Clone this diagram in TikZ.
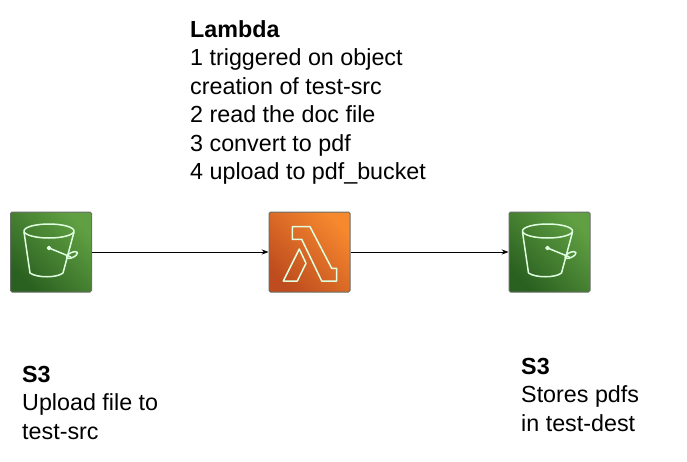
\documentclass[tikz,border=0pt]{standalone}
\usepackage{fontspec}
\setmainfont{Liberation Sans}
\usepackage{xcolor}
\usetikzlibrary{positioning,arrows.meta}
\definecolor{bucketdark}{RGB}{42,96,32}
\definecolor{bucketlight}{RGB}{96,160,66}
\definecolor{lambdadark}{RGB}{190,76,30}
\definecolor{lambdalight}{RGB}{246,136,46}
\definecolor{rimgray}{RGB}{105,110,105}
\tikzset{
    icon/.style={rectangle,draw=rimgray,line width=1pt,rounded corners=1.5pt,minimum width=81pt,minimum height=80pt,inner sep=0pt},
    bucket/.style={icon,bottom color=bucketdark,top color=bucketlight,shading angle=-45},
    lambda/.style={icon,bottom color=lambdadark,top color=lambdalight,shading angle=-45},
    glyph/.style={draw=white!88!green,line width=1.5pt,line join=round},
    note/.style={align=left,inner sep=0pt,font=\fontsize{23.3}{28.5}\selectfont},
    arr/.style={-{Stealth[length=2.4mm,width=1.8mm]},line width=0.8pt},
}
\newcommand{\bucketglyph}[1]{%
\begin{scope}[shift={(#1)},glyph]
\draw (-2,-21) ellipse (25 and 7);
\draw (-27,-20) -- (-21,21) .. controls (-14,26) and (6,26) .. (12,21) -- (23,-20);
\draw[fill=white] (-2,-4) circle (1.5);
\draw (-2,-4) -- (20,5);
\draw[rotate around={25:(21,3)}] (21,3) ellipse (6 and 2.5);
\end{scope}}
\begin{document}
\begin{tikzpicture}[x=1pt,y=-1pt]
\useasboundingbox (0,0) rectangle (687,461);
\node[bucket] (src) at (51,252) {};
\node[lambda] (fn) at (309.5,252) {};
\node[bucket] (dest) at (549.5,252) {};

\bucketglyph{src.center}
\bucketglyph{dest.center}
\begin{scope}[shift={(fn.center)},glyph]
\draw (-17.2,-25.3) -- (0.5,-25.3) -- (22.2,16.3) -- (27.2,16.3) -- (27.2,29) -- (12.2,29) -- (-7.8,-12.7) -- (-17.2,-12.7) -- cycle;
\draw (-10.2,-3) -- (-3.5,11.3) -- (-12.2,29) -- (-26.2,29) -- cycle;
\end{scope}

\node[note,anchor=south west] (fnnote) at (190,185) {\textbf{Lambda}\\1 triggered on object\\creation of test-src\\2 read the doc file\\3 convert to pdf\\4 upload to pdf\_bucket};
\node[note,anchor=north west] (srcnote) at (22,366) {\textbf{S3}\\Upload file to\\test-src};
\node[note,anchor=north west] (destnote) at (521,358) {\textbf{S3}\\Stores pdfs\\in test-dest};

\draw[arr] (src) -- (fn);
\draw[arr] (fn) -- (dest);
\end{tikzpicture}
\end{document}
